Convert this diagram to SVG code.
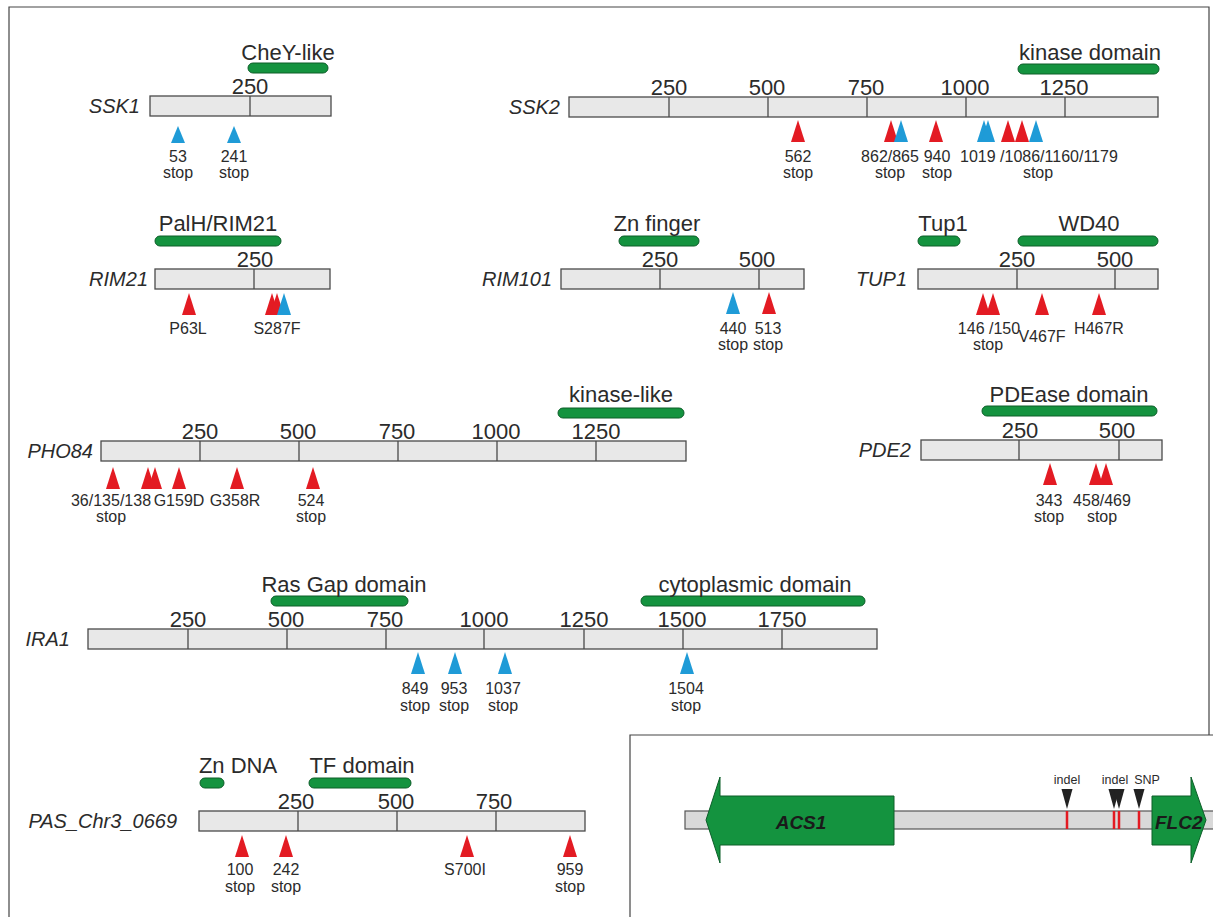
<svg xmlns="http://www.w3.org/2000/svg" xmlns:xlink="http://www.w3.org/1999/xlink" width="1213" height="917" viewBox="0 0 1213 917">
<style>
text{font-family:"Liberation Sans",Arial,sans-serif;fill:#2b2b2b}
.gene{font-size:20px;font-style:italic;text-anchor:end}
.tick{font-size:22px;text-anchor:middle}
.dom{font-size:22px;text-anchor:middle}
.mut{font-size:16px;text-anchor:middle}
.bar{fill:#e8e8e8;stroke:#4a4a4a;stroke-width:1.3}
.tk{stroke:#4a4a4a;stroke-width:1.3}
.gd{fill:#14933f;stroke:#0c5e29;stroke-width:1}
.r{fill:#e31b23}
.b{fill:#1f9bd7}
.k{fill:#222}
.frame{fill:none;stroke:#444;stroke-width:1.2}
.small{font-size:12.5px;text-anchor:middle}
.big{font-size:19px;font-style:italic;font-weight:bold;fill:#1a1a1a}
</style>
<defs>
<path id="t" d="M0,0 L7,22 L-7,22 Z"/>
<path id="ts" d="M0,0 L7,17 L-7,17 Z"/>
<path id="d" d="M-5.5,0 L5.5,0 L0,20 Z"/>
</defs>
<rect width="1213" height="917" fill="#fff"/>
<path class="frame" d="M9,917 V7 H1209 V735"/>
<g id="ssk1">
<rect class="gd" x="248" y="63" width="80" height="10" rx="5"/>
<text class="dom" x="288" y="60">CheY-like</text>
<rect class="bar" x="150" y="96" width="181" height="20"/>
<line class="tk" x1="250" y1="96" x2="250" y2="116"/>
<text class="tick" x="250" y="94">250</text>
<text class="gene" x="140" y="113">SSK1</text>
<use xlink:href="#ts" class="b" x="178" y="126"/>
<use xlink:href="#ts" class="b" x="234" y="126"/>
<text class="mut" x="178" y="162">53</text><text class="mut" x="178" y="178">stop</text>
<text class="mut" x="234" y="162">241</text><text class="mut" x="234" y="178">stop</text>
</g>
<g id="ssk2">
<rect class="gd" x="1018" y="64" width="141" height="10" rx="5"/>
<text class="dom" x="1090" y="60">kinase domain</text>
<rect class="bar" x="569" y="97" width="589" height="20"/>
<path class="tk" d="M669,97V117M768,97V117M867,97V117M966,97V117M1065,97V117"/>
<text class="tick" x="669" y="95">250</text>
<text class="tick" x="767" y="95">500</text>
<text class="tick" x="866" y="95">750</text>
<text class="tick" x="965" y="95">1000</text>
<text class="tick" x="1064" y="95">1250</text>
<text class="gene" x="560" y="114">SSK2</text>
<use xlink:href="#t" class="r" x="798" y="120"/>
<use xlink:href="#t" class="r" x="891" y="120"/>
<use xlink:href="#t" class="b" x="901" y="120"/>
<use xlink:href="#t" class="r" x="936" y="120"/>
<use xlink:href="#t" class="b" x="984" y="120"/>
<use xlink:href="#t" class="b" x="988" y="120"/>
<use xlink:href="#t" class="r" x="1008" y="120"/>
<use xlink:href="#t" class="r" x="1022" y="120"/>
<use xlink:href="#t" class="b" x="1036" y="120"/>
<text class="mut" x="798" y="162">562</text><text class="mut" x="798" y="178">stop</text>
<text class="mut" x="890" y="162">862/865</text><text class="mut" x="890" y="178">stop</text>
<text class="mut" x="937" y="162">940</text><text class="mut" x="937" y="178">stop</text>
<text class="mut" x="960" y="162" text-anchor="start" style="text-anchor:start">1019 /1086/1160/1179</text>
<text class="mut" x="1038" y="178">stop</text>
</g>
<g id="rim21">
<rect class="gd" x="155" y="236" width="126" height="10" rx="5"/>
<text class="dom" x="218" y="231">PalH/RIM21</text>
<rect class="bar" x="155" y="269" width="175" height="20"/>
<line class="tk" x1="254" y1="269" x2="254" y2="289"/>
<text class="tick" x="255" y="267">250</text>
<text class="gene" x="148" y="286">RIM21</text>
<use xlink:href="#t" class="r" x="189" y="293"/>
<use xlink:href="#t" class="r" x="272" y="293"/>
<use xlink:href="#t" class="r" x="277" y="293"/>
<use xlink:href="#t" class="b" x="284" y="293"/>
<text class="mut" x="188" y="334">P63L</text>
<text class="mut" x="277" y="334">S287F</text>
</g>
<g id="rim101">
<rect class="gd" x="619" y="236" width="80" height="10" rx="5"/>
<text class="dom" x="657" y="231">Zn finger</text>
<rect class="bar" x="561" y="269" width="243" height="20"/>
<path class="tk" d="M660,269V289M759,269V289"/>
<text class="tick" x="660" y="267">250</text>
<text class="tick" x="757" y="267">500</text>
<text class="gene" x="552" y="286">RIM101</text>
<use xlink:href="#t" class="b" x="733" y="292"/>
<use xlink:href="#t" class="r" x="769" y="292"/>
<text class="mut" x="733" y="334">440</text><text class="mut" x="733" y="350">stop</text>
<text class="mut" x="768" y="334">513</text><text class="mut" x="768" y="350">stop</text>
</g>
<g id="tup1">
<rect class="gd" x="918" y="236" width="42" height="10" rx="5"/>
<rect class="gd" x="1018" y="236" width="140" height="10" rx="5"/>
<text class="dom" x="943" y="231">Tup1</text>
<text class="dom" x="1089" y="231">WD40</text>
<rect class="bar" x="918" y="269" width="240" height="20"/>
<path class="tk" d="M1017,269V289M1115,269V289"/>
<text class="tick" x="1017" y="267">250</text>
<text class="tick" x="1115" y="267">500</text>
<text class="gene" x="907" y="286">TUP1</text>
<use xlink:href="#t" class="r" x="983" y="293"/>
<use xlink:href="#t" class="r" x="993" y="293"/>
<use xlink:href="#t" class="r" x="1042" y="293"/>
<use xlink:href="#t" class="r" x="1099" y="293"/>
<text class="mut" x="989" y="334">146 /150</text><text class="mut" x="988" y="350">stop</text>
<text class="mut" x="1042" y="342">V467F</text>
<text class="mut" x="1099" y="334">H467R</text>
</g>
<g id="pho84">
<rect class="gd" x="558" y="408" width="126" height="10" rx="5"/>
<text class="dom" x="621" y="402">kinase-like</text>
<rect class="bar" x="101" y="441" width="585" height="20"/>
<path class="tk" d="M200,441V461M299,441V461M398,441V461M497,441V461M596,441V461"/>
<text class="tick" x="200" y="439">250</text>
<text class="tick" x="298" y="439">500</text>
<text class="tick" x="397" y="439">750</text>
<text class="tick" x="496" y="439">1000</text>
<text class="tick" x="596" y="439">1250</text>
<text class="gene" x="93" y="458">PHO84</text>
<use xlink:href="#t" class="r" x="113" y="467"/>
<use xlink:href="#t" class="r" x="148" y="467"/>
<use xlink:href="#t" class="r" x="155" y="467"/>
<use xlink:href="#t" class="r" x="179" y="467"/>
<use xlink:href="#t" class="r" x="237" y="467"/>
<use xlink:href="#t" class="r" x="313" y="467"/>
<text class="mut" x="111" y="506">36/135/138</text><text class="mut" x="111" y="522">stop</text>
<text class="mut" x="179" y="506">G159D</text>
<text class="mut" x="235" y="506">G358R</text>
<text class="mut" x="311" y="506">524</text><text class="mut" x="311" y="522">stop</text>
</g>
<g id="pde2">
<rect class="gd" x="982" y="406" width="175" height="10" rx="5"/>
<text class="dom" x="1069" y="402">PDEase domain</text>
<rect class="bar" x="921" y="440" width="241" height="20"/>
<path class="tk" d="M1019,440V460M1119,440V460"/>
<text class="tick" x="1020" y="438">250</text>
<text class="tick" x="1117" y="438">500</text>
<text class="gene" x="911" y="457">PDE2</text>
<use xlink:href="#t" class="r" x="1050" y="463"/>
<use xlink:href="#t" class="r" x="1096" y="463"/>
<use xlink:href="#t" class="r" x="1106" y="463"/>
<text class="mut" x="1049" y="506">343</text><text class="mut" x="1049" y="522">stop</text>
<text class="mut" x="1102" y="506">458/469</text><text class="mut" x="1102" y="522">stop</text>
</g>
<g id="ira1">
<rect class="gd" x="271" y="596" width="137" height="10" rx="5"/>
<rect class="gd" x="641" y="596" width="224" height="10" rx="5"/>
<text class="dom" x="344" y="592">Ras Gap domain</text>
<text class="dom" x="755" y="592">cytoplasmic domain</text>
<rect class="bar" x="88" y="629" width="789" height="20"/>
<path class="tk" d="M188,629V649M287,629V649M386,629V649M484,629V649M584,629V649M683,629V649M782,629V649"/>
<text class="tick" x="188" y="627">250</text>
<text class="tick" x="286" y="627">500</text>
<text class="tick" x="385" y="627">750</text>
<text class="tick" x="484" y="627">1000</text>
<text class="tick" x="584" y="627">1250</text>
<text class="tick" x="682" y="627">1500</text>
<text class="tick" x="782" y="627">1750</text>
<text class="gene" x="70" y="646">IRA1</text>
<use xlink:href="#t" class="b" x="418" y="652"/>
<use xlink:href="#t" class="b" x="455" y="652"/>
<use xlink:href="#t" class="b" x="505" y="652"/>
<use xlink:href="#t" class="b" x="687" y="652"/>
<text class="mut" x="415" y="694">849</text><text class="mut" x="415" y="711">stop</text>
<text class="mut" x="454" y="694">953</text><text class="mut" x="454" y="711">stop</text>
<text class="mut" x="503" y="694">1037</text><text class="mut" x="503" y="711">stop</text>
<text class="mut" x="686" y="694">1504</text><text class="mut" x="686" y="711">stop</text>
</g>
<g id="pas">
<rect class="gd" x="200" y="778" width="24" height="10" rx="5"/>
<rect class="gd" x="309" y="778" width="102" height="10" rx="5"/>
<text class="dom" x="238" y="773">Zn DNA</text>
<text class="dom" x="362" y="773">TF domain</text>
<rect class="bar" x="199" y="811" width="386" height="20"/>
<path class="tk" d="M298,811V831M397,811V831M496,811V831"/>
<text class="tick" x="296" y="809">250</text>
<text class="tick" x="396" y="809">500</text>
<text class="tick" x="494" y="809">750</text>
<text class="gene" x="177" y="828">PAS_Chr3_0669</text>
<use xlink:href="#t" class="r" x="242" y="835"/>
<use xlink:href="#t" class="r" x="286" y="835"/>
<use xlink:href="#t" class="r" x="467" y="835"/>
<use xlink:href="#t" class="r" x="570" y="835"/>
<text class="mut" x="240" y="875">100</text><text class="mut" x="240" y="892">stop</text>
<text class="mut" x="286" y="875">242</text><text class="mut" x="286" y="892">stop</text>
<text class="mut" x="465" y="875">S700I</text>
<text class="mut" x="570" y="875">959</text><text class="mut" x="570" y="892">stop</text>
</g>
<g id="inset">
<path class="frame" d="M630,917 V735 H1213"/>
<rect x="685" y="811" width="540" height="18" fill="#d9d9d9" stroke="#555" stroke-width="1.2"/>
<path class="gd" d="M706,820 L720,777 L720,796 L894,796 L894,845 L720,845 L720,863 Z"/>
<path class="gd" d="M1152,796 L1191,796 L1191,777 L1206,820 L1191,863 L1191,845 L1152,845 Z"/>
<text class="big" x="801" y="829" text-anchor="middle">ACS1</text>
<text class="big" x="1155" y="829">FLC2</text>
<path d="M1067,811V829M1114,811V829M1119,811V829M1139,811V829" stroke="#e31b23" stroke-width="2.5"/>
<use xlink:href="#d" class="k" x="1067" y="789"/>
<use xlink:href="#d" class="k" x="1114" y="789"/>
<use xlink:href="#d" class="k" x="1119" y="789"/>
<use xlink:href="#d" class="k" x="1139" y="789"/>
<text class="small" x="1067" y="784">indel</text>
<text class="small" x="1115" y="784">indel</text>
<text class="small" x="1147" y="784">SNP</text>
</g>
</svg>
